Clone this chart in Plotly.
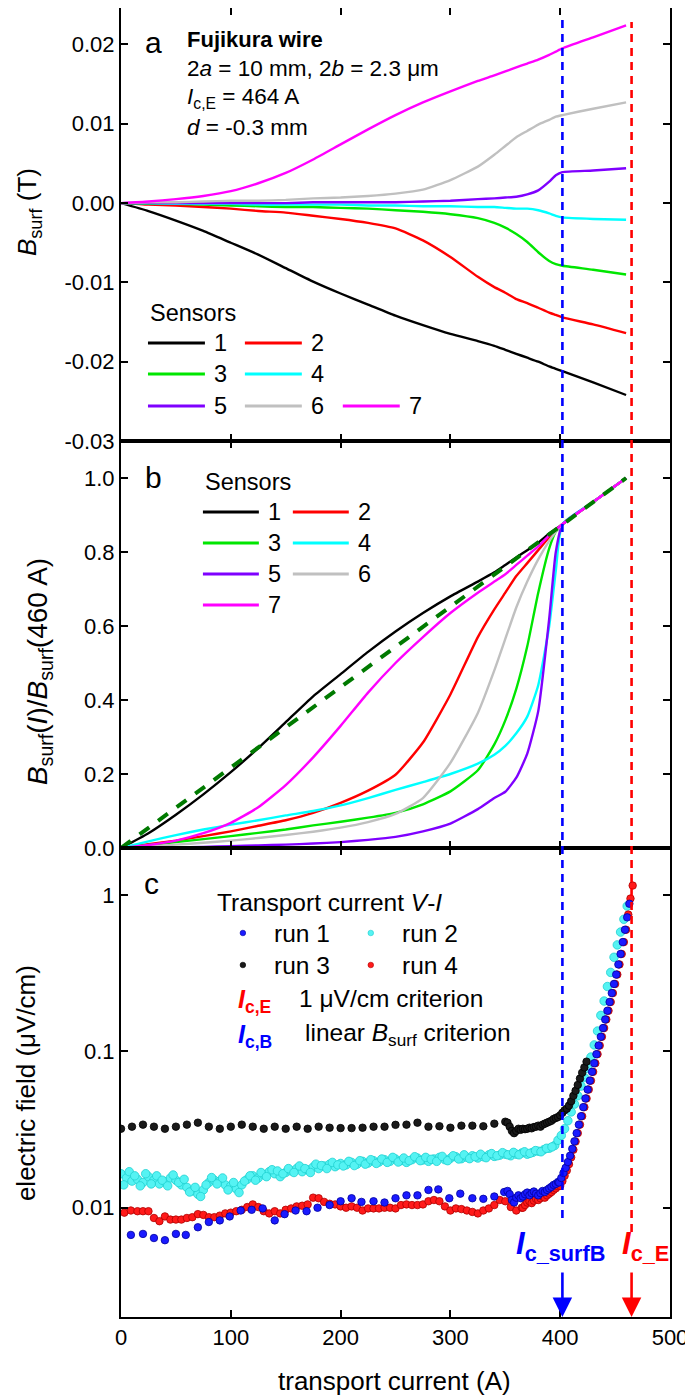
import plotly.graph_objects as go

# ---------------- data ----------------
sensor_names = ["1", "2", "3", "4", "5", "6", "7"]
sensor_colors = ["#000000", "#ff0000", "#00e600", "#00ffff", "#7f00ff", "#c0c0c0", "#ff00ff"]

I_grid = [0, 25, 50, 75, 100, 125, 150, 175, 200, 225, 250, 275, 300, 325, 340, 350, 360, 370, 380, 390, 396, 402, 430, 460]

# panel a: B_surf (T)
Ba_1 = [0, -0.001, -0.0022, -0.0035, -0.005, -0.0065, -0.0082, -0.0099, -0.0114, -0.0128, -0.0142, -0.0154, -0.0165, -0.0174, -0.018, -0.0185, -0.019, -0.0195, -0.02, -0.0206, -0.0209, -0.0212, -0.0226, -0.0242]
Ba_2 = [0, -0.0002, -0.0003, -0.0005, -0.0007, -0.001, -0.0012, -0.0016, -0.002, -0.0025, -0.0032, -0.0047, -0.0068, -0.0093, -0.0106, -0.0113, -0.0121, -0.0126, -0.0132, -0.0138, -0.0141, -0.0144, -0.0153, -0.0164]
Ba_3 = [0, -0.0001, -0.0001, -0.0002, -0.0003, -0.0004, -0.0005, -0.0005, -0.0006, -0.0007, -0.0009, -0.0011, -0.0014, -0.0019, -0.0025, -0.0031, -0.0039, -0.0049, -0.0062, -0.0073, -0.0077, -0.0079, -0.0084, -0.009]
Ba_4 = [0, 0, -0.0001, -0.0001, -0.0001, -0.0002, -0.0002, -0.0002, -0.0002, -0.0003, -0.0003, -0.0004, -0.0004, -0.0005, -0.0005, -0.0006, -0.0007, -0.0007, -0.0009, -0.0013, -0.0016, -0.0018, -0.002, -0.0021]
Ba_5 = [0, 0, 0, 0, 0, 0, 0, 0.0001, 0.0001, 0.0001, 0.0001, 0.0002, 0.0003, 0.0005, 0.0006, 0.0007, 0.0008, 0.0011, 0.0016, 0.0027, 0.0035, 0.0039, 0.0041, 0.0044]
Ba_6 = [0, 0.0001, 0.0001, 0.0002, 0.0003, 0.0003, 0.0004, 0.0006, 0.0007, 0.0009, 0.0012, 0.0017, 0.0029, 0.0046, 0.0061, 0.0072, 0.0083, 0.0091, 0.0099, 0.0105, 0.0109, 0.0111, 0.0119, 0.0127]
Ba_7 = [0, 0.0002, 0.0005, 0.0009, 0.0015, 0.0025, 0.0038, 0.0055, 0.0074, 0.0093, 0.0111, 0.0127, 0.0141, 0.0154, 0.0161, 0.0166, 0.0171, 0.0176, 0.0181, 0.0187, 0.0191, 0.0195, 0.0209, 0.0224]

# panel b: B_surf(I)/B_surf(460 A)
Bb_1 = [0, 0.04, 0.09, 0.145, 0.205, 0.27, 0.34, 0.41, 0.47, 0.53, 0.585, 0.635, 0.68, 0.72, 0.745, 0.765, 0.785, 0.805, 0.825, 0.85, 0.862, 0.875, 0.935, 1.0]
Bb_2 = [0, 0.01, 0.02, 0.032, 0.045, 0.06, 0.075, 0.095, 0.122, 0.155, 0.198, 0.285, 0.415, 0.57, 0.645, 0.69, 0.735, 0.77, 0.805, 0.84, 0.858, 0.875, 0.935, 1.0]
Bb_3 = [0, 0.008, 0.016, 0.024, 0.032, 0.041, 0.05, 0.061, 0.071, 0.082, 0.095, 0.118, 0.153, 0.21, 0.28, 0.345, 0.43, 0.545, 0.69, 0.81, 0.855, 0.875, 0.935, 1.0]
Bb_4 = [0, 0.018, 0.035, 0.05, 0.063, 0.075, 0.088, 0.1, 0.115, 0.135, 0.157, 0.178, 0.2, 0.228, 0.252, 0.276, 0.31, 0.355, 0.44, 0.6, 0.75, 0.875, 0.935, 1.0]
Bb_5 = [0, 0.001, 0.002, 0.003, 0.005, 0.007, 0.009, 0.012, 0.016, 0.022, 0.03, 0.045, 0.066, 0.105, 0.135, 0.152, 0.19, 0.255, 0.37, 0.62, 0.8, 0.875, 0.935, 1.0]
Bb_6 = [0, 0.004, 0.009, 0.014, 0.02, 0.027, 0.035, 0.044, 0.055, 0.07, 0.092, 0.135, 0.23, 0.365, 0.48, 0.565, 0.65, 0.72, 0.78, 0.83, 0.855, 0.875, 0.935, 1.0]
Bb_7 = [0, 0.008, 0.02, 0.04, 0.068, 0.11, 0.17, 0.245, 0.33, 0.42, 0.50, 0.57, 0.635, 0.69, 0.72, 0.74, 0.765, 0.79, 0.815, 0.845, 0.86, 0.875, 0.935, 1.0]

linear_I = [0, 460]
linear_v = [0.0, 1.0]

# panel c: electric field (uV/cm)
I_run1 = [9, 20, 30, 40, 50, 59, 70, 80, 90, 99, 109, 119, 129, 140, 149, 159, 169, 179, 190, 200,
          210, 219, 230, 240, 250, 260, 270, 280, 289, 299, 309, 320, 330, 340, 349,
          352, 354, 356, 358, 360, 362, 364, 366, 368, 370, 372, 374, 376, 378, 380, 382, 384, 386, 388, 390,
          392, 394, 396, 398,
          399, 401, 403, 405, 407, 409, 411, 413, 415, 417, 419, 421, 423, 425, 427, 429, 431, 433, 435, 437,
          439, 441, 443, 445, 447, 449, 451, 453, 455, 457, 459, 461, 463]
E_run1 = [0.0067, 0.0068, 0.0064, 0.0062, 0.0068, 0.0067, 0.0075, 0.0081, 0.0083, 0.0088, 0.0096, 0.0097, 0.0099, 0.0083, 0.0091, 0.0096, 0.0095, 0.0100, 0.0104, 0.0110,
          0.0115, 0.0109, 0.0110, 0.0108, 0.0115, 0.0120, 0.0120, 0.0130, 0.0131, 0.0115, 0.0123, 0.0115, 0.0114, 0.0118, 0.0126,
          0.0128, 0.0122, 0.0112, 0.0108, 0.0116, 0.0120, 0.0115, 0.0118, 0.0122, 0.0125, 0.0120, 0.0124, 0.0127, 0.0123, 0.0120, 0.0124, 0.0128, 0.0126, 0.0130, 0.0133,
          0.0136, 0.0140, 0.0142, 0.0146,
          0.0145, 0.0155, 0.0167, 0.0180, 0.0196, 0.0215, 0.0238, 0.0266, 0.0300, 0.0340, 0.0385, 0.0440, 0.0500, 0.0570, 0.0650, 0.0740, 0.0840, 0.0960, 0.109, 0.124,
          0.141, 0.160, 0.182, 0.207, 0.236, 0.270, 0.310, 0.360, 0.420, 0.500, 0.600, 0.720, 0.880]

I_run2 = [0, 5, 10, 15, 20, 25, 30, 35, 40, 45, 50, 55, 60, 65, 70, 75, 80, 85, 90, 95,
          100, 105, 110, 115, 120, 125, 130, 135, 140, 145, 150, 155, 160, 165, 170, 175, 180, 185, 190, 195,
          200, 205, 210, 215, 220, 225, 230, 235, 240, 245, 250, 255, 260, 265, 270, 275, 280, 285, 290, 295,
          300, 305, 310, 315, 320, 325, 330, 335, 340, 345, 350, 355, 360, 365, 370, 375, 380, 385, 390, 395,
          398, 401, 404, 407, 410, 413, 416, 419, 422, 425, 428, 431, 434, 437, 440, 443, 446, 449, 452, 455, 458, 461]
E_run2 = [0.0165, 0.0155, 0.0148, 0.0152, 0.0145, 0.0158, 0.0150, 0.0142, 0.0147, 0.0155, 0.0150, 0.0140, 0.0135, 0.0128, 0.0122, 0.0130, 0.0145, 0.0150, 0.0148, 0.0140,
          0.0138, 0.0132, 0.0140, 0.0152, 0.0160, 0.0155, 0.0163, 0.0170, 0.0165, 0.0158, 0.0168, 0.0172, 0.0178, 0.0170, 0.0175, 0.0182, 0.0178, 0.0185, 0.0190, 0.0183,
          0.0192, 0.0188, 0.0195, 0.0190, 0.0198, 0.0193, 0.0200, 0.0196, 0.0203, 0.0198, 0.0205, 0.0200, 0.0195, 0.0203, 0.0208, 0.0202, 0.0198, 0.0205, 0.0210, 0.0203,
          0.0207, 0.0212, 0.0206, 0.0210, 0.0215, 0.0208, 0.0212, 0.0218, 0.0213, 0.0217, 0.0220, 0.0215, 0.0220, 0.0224, 0.0220, 0.0226, 0.0230, 0.0235, 0.0240, 0.0250,
          0.0270, 0.0290, 0.0320, 0.0360, 0.0410, 0.0460, 0.0520, 0.0600, 0.0680, 0.0780, 0.0920, 0.110, 0.135, 0.170, 0.210, 0.260, 0.320, 0.400, 0.480, 0.580, 0.700, 0.850]
# run 2 is sampled densely: the in-between readings
I_run2_mid = [2.5, 7.5, 12.5, 17.5, 22.5, 27.5, 32.5, 37.5, 42.5, 47.5, 52.5, 57.5, 62.5, 67.5, 72.5, 77.5, 82.5, 87.5, 92.5, 97.5,
              102.5, 107.5, 112.5, 117.5, 122.5, 127.5, 132.5, 137.5, 142.5, 147.5, 152.5, 157.5, 162.5, 167.5, 172.5, 177.5, 182.5, 187.5, 192.5, 197.5,
              202.5, 207.5, 212.5, 217.5, 222.5, 227.5, 232.5, 237.5, 242.5, 247.5, 252.5, 257.5, 262.5, 267.5, 272.5, 277.5, 282.5, 287.5, 292.5, 297.5,
              302.5, 307.5, 312.5, 317.5, 322.5, 327.5, 332.5, 337.5, 342.5, 347.5, 352.5, 357.5, 362.5, 367.5, 372.5, 377.5, 382.5, 387.5, 392.5]
E_run2_mid = [0.0140, 0.0170, 0.0160, 0.0138, 0.0165, 0.0142, 0.0160, 0.0150, 0.0138, 0.0162, 0.0145, 0.0152, 0.0126, 0.0135, 0.0118, 0.0140, 0.0156, 0.0142, 0.0155, 0.0130,
              0.0145, 0.0125, 0.0148, 0.0160, 0.0150, 0.0168, 0.0158, 0.0175, 0.0172, 0.0165, 0.0178, 0.0168, 0.0185, 0.0178, 0.0168, 0.0190, 0.0186, 0.0178, 0.0195, 0.0188,
              0.0185, 0.0198, 0.0186, 0.0200, 0.0190, 0.0203, 0.0192, 0.0205, 0.0195, 0.0210, 0.0196, 0.0208, 0.0200, 0.0212, 0.0200, 0.0210, 0.0204, 0.0198, 0.0213, 0.0200,
              0.0215, 0.0205, 0.0218, 0.0206, 0.0212, 0.0220, 0.0209, 0.0222, 0.0215, 0.0225, 0.0218, 0.0226, 0.0218, 0.0228, 0.0223, 0.0232, 0.0228, 0.0240, 0.0245]

I_run3 = [0, 10, 20, 30, 40, 50, 60, 70, 80, 90, 100, 110, 120, 130, 140, 150, 160, 170, 180, 190,
          200, 210, 220, 230, 240, 250, 260, 270, 280, 290, 300, 310, 320, 330, 340, 350,
          352, 354, 356, 358, 360, 362, 364, 366, 368, 370, 372, 374, 376, 378, 380, 382, 384, 386, 388, 390,
          392, 394, 396, 398, 400, 402, 404, 406, 408, 410, 412, 414, 416, 418, 420, 422, 424]
E_run3 = [0.032, 0.033, 0.034, 0.033, 0.032, 0.033, 0.034, 0.035, 0.033, 0.032, 0.033, 0.034, 0.033, 0.032, 0.033, 0.032, 0.033, 0.032, 0.033, 0.0325,
          0.0323, 0.0323, 0.0325, 0.033, 0.033, 0.0339, 0.034, 0.035, 0.033, 0.0332, 0.0325, 0.0335, 0.0335, 0.0332, 0.0345, 0.0355,
          0.035, 0.033, 0.031, 0.030, 0.031, 0.032, 0.0315, 0.032, 0.0318, 0.032, 0.0325, 0.0322, 0.0328, 0.033, 0.0335, 0.033, 0.034, 0.0345, 0.035, 0.0355,
          0.036, 0.037, 0.0375, 0.038, 0.039, 0.0405, 0.042, 0.043, 0.045, 0.048, 0.052, 0.056, 0.061, 0.067, 0.073, 0.079, 0.086]

I_run4 = [3, 9, 15, 20, 25, 30, 35, 40, 45, 50, 55, 60, 65, 70, 75, 80, 85, 90, 95, 100,
          105, 110, 115, 120, 125, 130, 135, 140, 145, 150, 155, 160, 165, 170, 175, 180, 185, 190, 195, 200,
          205, 210, 215, 220, 225, 230, 235, 240, 245, 250, 255, 260, 265, 270, 275, 280, 285, 290, 295, 300,
          305, 310, 315, 320, 325, 330, 335, 340, 345, 350, 355, 360, 365,
          366, 368, 370, 372, 374, 376, 378, 380, 382, 384, 386, 388, 390, 392, 394, 396, 398,
          400, 402, 404, 406, 408, 410, 412, 414, 416, 418, 420, 422, 424, 426, 428, 430, 432, 434, 436, 438,
          440, 442, 444, 446, 448, 450, 452, 454, 456, 458, 460, 462, 464, 466]
E_run4 = [0.0093, 0.0096, 0.0095, 0.0095, 0.0095, 0.0086, 0.0082, 0.0088, 0.0084, 0.0084, 0.0084, 0.0086, 0.0087, 0.0091, 0.0090, 0.0087, 0.0087, 0.0089, 0.0092, 0.0093,
          0.0095, 0.0097, 0.0101, 0.0105, 0.0101, 0.0095, 0.0092, 0.0095, 0.0092, 0.0097, 0.0099, 0.0102, 0.0103, 0.0105, 0.0116, 0.0115, 0.0109, 0.0106, 0.0105, 0.0102,
          0.0100, 0.0102, 0.0100, 0.0096, 0.0099, 0.0099, 0.0099, 0.0100, 0.0100, 0.0099, 0.0104, 0.0105, 0.0104, 0.0104, 0.0105, 0.0110, 0.0112, 0.0110, 0.0102, 0.0096,
          0.0099, 0.0098, 0.0096, 0.0094, 0.0092, 0.0096, 0.0099, 0.0104, 0.0112, 0.0110, 0.0101, 0.0096, 0.0100,
          0.0100, 0.0104, 0.0108, 0.0110, 0.0107, 0.0111, 0.0114, 0.0112, 0.0115, 0.0118, 0.0116, 0.0120, 0.0123, 0.0126, 0.0130, 0.0133, 0.0137,
          0.0138, 0.0148, 0.0160, 0.0173, 0.0190, 0.0210, 0.0235, 0.0265, 0.0300, 0.0340, 0.0385, 0.0440, 0.0500, 0.0570, 0.0650, 0.0740, 0.0840, 0.0960, 0.109, 0.124,
          0.141, 0.160, 0.182, 0.207, 0.236, 0.270, 0.310, 0.360, 0.420, 0.500, 0.600, 0.750, 0.950, 1.150]

Ic_B = 402   # linear B_surf criterion (A)
Ic_E = 465   # 1 uV/cm criterion (A)

x_ticks = [0, 100, 200, 300, 400, 500]
a_ticks = [-0.03, -0.02, -0.01, 0.0, 0.01, 0.02]
a_ticklabels = ["-0.03", "-0.02", "-0.01", "0.00", "0.01", "0.02"]
b_ticks = [0.0, 0.2, 0.4, 0.6, 0.8, 1.0]
b_ticklabels = ["0.0", "0.2", "0.4", "0.6", "0.8", "1.0"]
c_ticks = [0.01, 0.1, 1]
c_ticklabels = ["0.01", "0.1", "1"]

# ---------------- layout helpers ----------------
# The page body has an 8 px margin, so the figure is drawn 8 px smaller and
# all positions below are given in page pixels of the 693x1399 window.
OFF = 8
WIN_W, WIN_H = 693, 1399
W, H = WIN_W - OFF, WIN_H - OFF
PL, PR, PT, PB = 121, 670.5, 8, 1317
FONT = "Liberation Sans, Arial, Helvetica, sans-serif"


def px(x):
    return (x - PL) / (PR - PL)


def py(y):
    return (PB - y) / (PB - PT)


dom_a = [py(441), 1.0]
dom_b = [py(848), py(441)]
dom_c = [0.0, py(848)]

fig = go.Figure()

Ba = [Ba_1, Ba_2, Ba_3, Ba_4, Ba_5, Ba_6, Ba_7]
Bb = [Bb_1, Bb_2, Bb_3, Bb_4, Bb_5, Bb_6, Bb_7]
for k in range(7):
    fig.add_trace(go.Scatter(x=I_grid, y=Ba[k], mode="lines", xaxis="x", yaxis="y",
                             line=dict(color=sensor_colors[k], width=2.4, shape="spline", smoothing=0.5),
                             showlegend=False, hoverinfo="skip"))
for k in range(7):
    fig.add_trace(go.Scatter(x=I_grid, y=Bb[k], mode="lines", xaxis="x2", yaxis="y2",
                             line=dict(color=sensor_colors[k], width=2.4, shape="spline", smoothing=0.5),
                             showlegend=False, hoverinfo="skip"))
fig.add_trace(go.Scatter(x=linear_I, y=linear_v, mode="lines", xaxis="x2", yaxis="y2",
                         line=dict(color="#007a00", width=4, dash="12px,11px"),
                         showlegend=False, hoverinfo="skip"))

CY, CYL = "#55f3f3", "#1fd0d0"
runs = [
    (I_run2, E_run2, CY, CYL, 8.5),
    (I_run2_mid, E_run2_mid, CY, CYL, 8.5),
    (I_run3, E_run3, "#1a1a1a", "#000000", 7.5),
    (I_run4, E_run4, "#ff1a1a", "#b00000", 7.5),
    (I_run1, E_run1, "#1a1aff", "#0000a0", 7.5),
]
for xs, ys, col, lc, sz in runs:
    fig.add_trace(go.Scatter(x=xs, y=ys, mode="markers", xaxis="x3", yaxis="y3",
                             marker=dict(size=sz, color=col, line=dict(color=lc, width=0.8)),
                             showlegend=False, hoverinfo="skip"))

axis_common = dict(showline=True, linecolor="black", linewidth=2, mirror="ticks",
                   ticks="inside", ticklen=7, tickwidth=1.8, tickcolor="black",
                   showgrid=False, zeroline=False,
                   tickfont=dict(family=FONT, size=22, color="black"))

fig.update_layout(
    width=W, height=H,
    margin=dict(l=PL - OFF, r=WIN_W - PR, t=PT - OFF, b=WIN_H - PB, autoexpand=False),
    paper_bgcolor="white", plot_bgcolor="white",
    showlegend=False,
    xaxis=dict(domain=[0, 1], anchor="y", range=[0, 500], tickvals=x_ticks, showticklabels=False, **axis_common),
    xaxis2=dict(domain=[0, 1], anchor="y2", range=[0, 500], tickvals=x_ticks, showticklabels=False, matches="x", **axis_common),
    xaxis3=dict(domain=[0, 1], anchor="y3", range=[0, 500], tickvals=x_ticks, matches="x", **axis_common),
    yaxis=dict(domain=dom_a, anchor="x", range=[-0.03, 0.0246], tickvals=a_ticks, ticktext=a_ticklabels, **axis_common),
    yaxis2=dict(domain=dom_b, anchor="x2", range=[0, 1.1], tickvals=b_ticks, ticktext=b_ticklabels, **axis_common),
    yaxis3=dict(domain=dom_c, anchor="x3", type="log", range=[-2.69897, 0.30103],
                tickvals=c_ticks, ticktext=c_ticklabels, **axis_common),
)

shapes = []
ann = []


def text(x, y, s, size=21, color="black", xanchor="left", angle=0):
    ann.append(dict(xref="paper", yref="paper", x=px(x), y=py(y), text=s, showarrow=False,
                    xanchor=xanchor, yanchor="middle", textangle=angle,
                    font=dict(family=FONT, size=size, color=color)))


def hline(x0, x1, y, color, width=3):
    shapes.append(dict(type="line", xref="paper", yref="paper", x0=px(x0), x1=px(x1), y0=py(y), y1=py(y),
                       line=dict(color=color, width=width)))


def dot(x, y, color, lc, r=2.8):
    shapes.append(dict(type="circle", xref="paper", yref="paper",
                       x0=px(x - r), x1=px(x + r), y0=py(y + r), y1=py(y - r),
                       fillcolor=color, line=dict(color=lc, width=0.6)))


# vertical dashed criterion lines
shapes.append(dict(type="line", xref="x3", yref="paper", x0=Ic_B, x1=Ic_B, y0=py(1218), y1=py(20),
                   line=dict(color="#0000ff", width=2.6, dash="8px,6px")))
shapes.append(dict(type="line", xref="x3", yref="paper", x0=Ic_E, x1=Ic_E, y0=py(1232), y1=py(22),
                   line=dict(color="#ff0000", width=2.6, dash="8px,6px")))

# arrows
for xv, col in [(Ic_B, "#0000ff"), (Ic_E, "#ff0000")]:
    ann.append(dict(xref="x3", yref="paper", x=xv, y=0, ax=0, ay=-46, text="", showarrow=True,
                    arrowhead=2, arrowsize=1.5, arrowwidth=2.6, arrowcolor=col, standoff=0))

# panel letters
text(143, 43, "a", size=30)
text(143, 477, "b", size=30)
text(142, 883, "c", size=30)

# panel a info block
text(185, 39, "<b>Fujikura wire</b>", size=22)
text(185, 69, "2<i>a</i> = 10 mm, 2<i>b</i> = 2.3 μm", size=22.5)
text(185, 98, "<i>I</i><sub>c,E</sub> = 464 A", size=22.5)
text(185, 127, "<i>d</i> = -0.3 mm", size=22.5)

# panel a legend
text(148, 313, "Sensors", size=23.5)
rows_a = [343, 374, 406]
cols_a = [148, 245, 343]
for k in range(7):
    r, c = divmod(k, 2) if k < 6 else (2, 2)
    x0 = cols_a[c]
    hline(x0, x0 + 57, rows_a[r], sensor_colors[k])
    text(x0 + 64, rows_a[r], sensor_names[k], size=23.5)

# panel b legend
text(203, 482, "Sensors", size=23.5)
rows_b = [512, 543, 574, 605]
cols_b = [203, 293]
for k in range(7):
    r, c = divmod(k, 2)
    x0 = cols_b[c]
    hline(x0, x0 + 56, rows_b[r], sensor_colors[k])
    text(x0 + 63, rows_b[r], sensor_names[k], size=23.5)

# panel c legend
text(215, 902, "Transport current <i>V</i>-<i>I</i>", size=24.5)
dot(243, 933, "#1a1aff", "#0000a0")
text(272, 933, "run 1", size=24.5)
dot(371, 933, CY, CYL)
text(400, 933, "run 2", size=24.5)
dot(243, 965, "#1a1a1a", "#000000")
text(272, 965, "run 3", size=24.5)
dot(371, 965, "#ff1a1a", "#b00000")
text(400, 965, "run 4", size=24.5)
text(236, 1001, "<b><i>I</i></b><sub><b>c,E</b></sub>", size=25, color="#ff0000")
text(297, 998, "1 μV/cm criterion", size=24.5)
text(236, 1036, "<b><i>I</i></b><sub><b>c,B</b></sub>", size=25, color="#0000ff")
text(303, 1034, "linear <i>B</i><sub>surf</sub> criterion", size=24.5)

# criterion labels near the bottom
text(514, 1246, "<b><i>I</i></b><sub><b>c_surfB</b></sub>", size=31, color="#0000ff")
text(620, 1246, "<b><i>I</i></b><sub><b>c_E</b></sub>", size=31, color="#ff0000")

# axis titles
text(395, 1381, "transport current (A)", size=26, xanchor="center")
text(28, 212, "<i>B</i><sub>surf</sub> (T)", size=26, xanchor="center", angle=-90)
text(40, 672, "<i>B</i><sub>surf</sub>(<i>I</i>)/<i>B</i><sub>surf</sub>(460 A)", size=28, xanchor="center", angle=-90)
text(26, 1083, "electric field (μV/cm)", size=26, xanchor="center", angle=-90)

fig.update_layout(shapes=shapes, annotations=ann)
fig.write_html("out.html")
